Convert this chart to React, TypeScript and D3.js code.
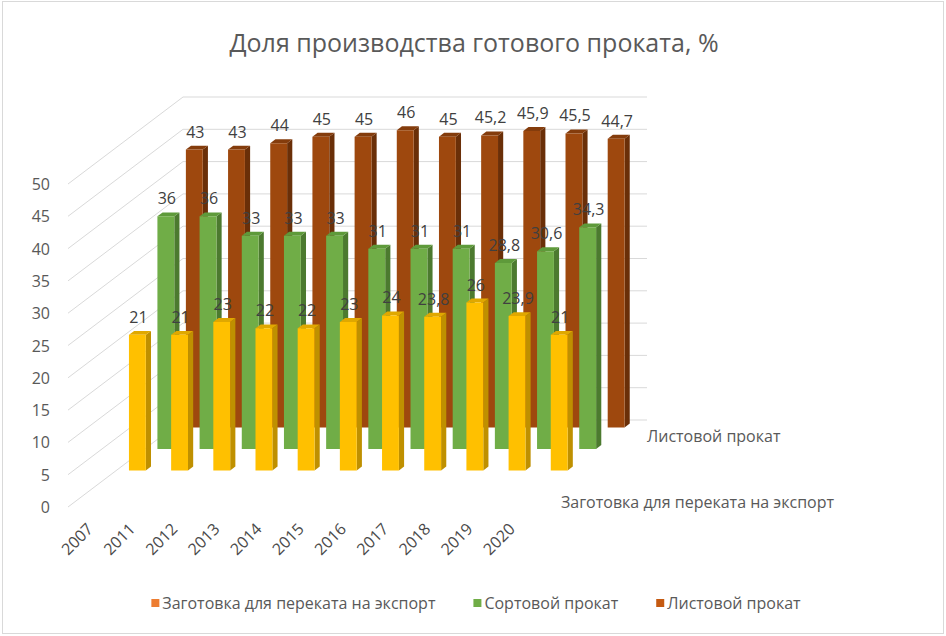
import React, { useRef, useEffect } from "react";
import * as d3 from "d3";

// Categories (years) and the three series
const categories = ["2007", "2011", "2012", "2013", "2014", "2015", "2016", "2017", "2018", "2019", "2020"];
const seriesNames = ["Заготовка для переката на экспорт", "Сортовой прокат", "Листовой прокат"];
const billetExport = [21, 21, 23, 22, 22, 23, 24, 23.8, 26, 23.9, 21];
const sectionRolled = [36, 36, 33, 33, 33, 31, 31, 31, 28.8, 30.6, 34.3];
const sheetRolled = [43, 43, 44, 45, 45, 46, 45, 45.2, 45.9, 45.5, 44.7];
const yTicks = [0, 5, 10, 15, 20, 25, 30, 35, 40, 45, 50];

const seriesValues = [billetExport, sectionRolled, sheetRolled];
// bar faces: front, side, top
const barColors = [
  ["#FFC000", "#BF9000", "#E0A800"],
  ["#70AD47", "#4C7A2F", "#5E9A3A"],
  ["#9E480E", "#6A2F08", "#843C0C"],
];
const legendColors = ["#ED7D31", "#70AD47", "#C55A11"];

const W = 946;
const H = 636;
const FONT = "'Open Sans', 'Noto Sans', sans-serif";

export default function App() {
  const svgRef = useRef<SVGSVGElement>(null);

  useEffect(() => {
    if (!svgRef.current) return;
    const svg = d3.select(svgRef.current);
    svg.selectAll("*").remove();

    // oblique 3D projection: floor front-left corner, depth vector
    const X0 = 68, Y0 = 507, DX = 115, DY = -87, floorW = 464;
    const x = d3.scaleBand<string>().domain(categories).range([0, floorW]).paddingInner(0.6).paddingOuter(0.3);
    const z = d3.scalePoint<string>().domain(seriesNames).range([0.42, 0.915]);
    const y = d3.scaleLinear().domain([0, 50]).range([0, 323]);
    const P = (px: number, t: number, v: number): [number, number] => [X0 + px + DX * t, Y0 + DY * t - y(v)];
    const poly = (pts: [number, number][]) => "M" + pts.map(p => p.join(",")).join("L") + "Z";
    const fmt = (v: number) => String(v).replace(".", ",");

    svg.append("rect")
      .attr("x", 2.5).attr("y", 1.5).attr("width", W - 5).attr("height", H - 4)
      .attr("fill", "#fff").attr("stroke", "#d9d9d9");

    svg.append("text")
      .attr("x", 474).attr("y", 52)
      .attr("text-anchor", "middle")
      .attr("font-size", 25)
      .attr("fill", "#595959")
      .text("Доля производства готового проката, %");

    // gridlines on the left wall and back wall
    const grid = svg.append("g").attr("stroke", "#d9d9d9").attr("stroke-width", 1).attr("fill", "none");
    yTicks.forEach(v => {
      const a = P(0, 0, v), b = P(0, 1, v), c = P(floorW, 1, v);
      grid.append("path").attr("d", `M${a}L${b}L${c}`);
    });

    // value axis labels
    svg.append("g")
      .selectAll("text")
      .data(yTicks)
      .enter()
      .append("text")
      .attr("x", 50)
      .attr("y", d => P(0, 0, d)[1] + 6)
      .attr("text-anchor", "end")
      .attr("font-size", 16)
      .attr("fill", "#595959")
      .text(d => d);

    // bars, back row first
    const bw = x.bandwidth();
    const dt = 0.045;
    const bars = svg.append("g");
    for (let s = seriesNames.length - 1; s >= 0; s--) {
      const t = z(seriesNames[s])!;
      seriesValues[s].forEach((v, i) => {
        const l = x(categories[i])!, r = l + bw;
        const g = bars.append("g");
        g.append("path").attr("fill", barColors[s][1])
          .attr("d", poly([P(r, t, 0), P(r, t + dt, 0), P(r, t + dt, v), P(r, t, v)]));
        g.append("path").attr("fill", barColors[s][2])
          .attr("d", poly([P(l, t, v), P(r, t, v), P(r, t + dt, v), P(l, t + dt, v)]));
        g.append("path").attr("fill", barColors[s][0])
          .attr("d", poly([P(l, t, 0), P(r, t, 0), P(r, t, v), P(l, t, v)]));
      });
    }

    // data labels on top of everything
    const labels = svg.append("g").attr("font-size", 16).attr("fill", "#404040").attr("text-anchor", "middle");
    for (let s = seriesNames.length - 1; s >= 0; s--) {
      const t = z(seriesNames[s])!;
      seriesValues[s].forEach((v, i) => {
        const [cx, cy] = P(x(categories[i])! + bw / 2, t, v);
        labels.append("text").attr("x", cx + 1).attr("y", cy - 12).text(fmt(v));
      });
    }

    // category labels along the front edge
    svg.append("g")
      .selectAll("text")
      .data(categories)
      .enter()
      .append("text")
      .attr("transform", d => {
        const [px, py] = P(x(d)! + bw / 2, 0, 0);
        return `translate(${px + 5},${py + 23}) rotate(-45)`;
      })
      .attr("text-anchor", "end")
      .attr("font-size", 16)
      .attr("fill", "#4a4a4a")
      .text(d => d);

    // series (depth) axis labels; Excel hides the middle one
    const depthLabelX = d3.scaleLinear().domain([0.42, 0.915]).range([561, 647]);
    const depthLabelY = d3.scaleLinear().domain([0.42, 0.915]).range([508, 442]);
    svg.append("g")
      .selectAll("text")
      .data(seriesNames.filter((_, i) => i !== 1))
      .enter()
      .append("text")
      .attr("x", d => depthLabelX(z(d)!))
      .attr("y", d => depthLabelY(z(d)!))
      .attr("font-size", 16)
      .attr("fill", "#595959")
      .text(d => d);

    // legend, centred under the plot
    const legend = svg.append("g").attr("font-size", 16).attr("fill", "#595959");
    const items = seriesNames.map((name, i) => {
      const g = legend.append("g");
      g.append("rect").attr("width", 8).attr("height", 8).attr("y", -4).attr("fill", legendColors[i]);
      const txt = g.append("text").attr("x", 11).attr("y", 6).text(name);
      return { g, w: 11 + (txt.node() as SVGTextElement).getComputedTextLength() };
    });
    const gap = 38;
    const total = d3.sum(items, d => d.w) + gap * (items.length - 1);
    let cur = 476 - total / 2;
    items.forEach(it => {
      it.g.attr("transform", `translate(${cur},603)`);
      cur += it.w + gap;
    });
  }, []);

  return (
    <div style={{ position: "absolute", left: 0, top: 0 }}>
      <svg ref={svgRef} width={W} height={H} style={{ display: "block", fontFamily: FONT }} />
    </div>
  );
}
